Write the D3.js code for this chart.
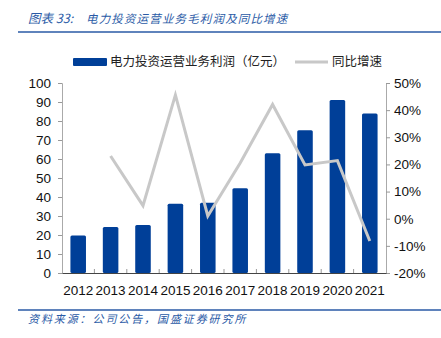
<!DOCTYPE html>
<html><head><meta charset="utf-8">
<script src="https://cdn.jsdelivr.net/npm/d3@7"></script>
<style>body{margin:0;background:#fff;}svg{display:block;}</style>
</head><body>
<script>
const years = ["2012","2013","2014","2015","2016","2017","2018","2019","2020","2021"];
const profit = [19.8, 24.2, 25.3, 36.5, 37.0, 44.6, 63.0, 75.1, 91.0, 83.9];
const growth = [null, 23.1, 4.8, 45.6, 1.0, 20.5, 42.1, 19.8, 21.4, -8.2];
const leftTicks = [0,10,20,30,40,50,60,70,80,90,100];
const rightTicks = [-20,-10,0,10,20,30,40,50];

const W=441,H=338;
const svg=d3.select("body").append("svg").attr("width",W).attr("height",H);
const blue="#003f98", grey="#c8c8c8", titleBlue="#2a5aa6";
const font="'Noto Sans CJK SC','Noto Sans',sans-serif";
const numFont="'Liberation Sans',Arial,sans-serif";

function slantedChars(xp,yp,size,txt,step){
  const g=svg.append("g").attr("transform",`translate(${xp},${yp}) skewX(-14)`);
  g.selectAll("text").data(Array.from(txt)).join("text")
    .attr("x",(d,i)=>i*step).attr("y",0).attr("font-family",font).attr("font-size",size)
    .attr("fill",titleBlue).text(d=>d);
}
const tg=svg.append("g").attr("transform","translate(28,23) skewX(-14)");
tg.append("text").attr("font-family",font).attr("font-size",12.5).attr("fill",titleBlue).text("图表 33:");
slantedChars(86,23,11.5,"电力投资运营业务毛利润及同比增速",12.65);
svg.append("line").attr("x1",18).attr("x2",441).attr("y1",32).attr("y2",32).attr("stroke",titleBlue).attr("stroke-width",1.5);

const L=62,R=386,T=83,B=273;
const x=d3.scaleBand().domain(years).range([L,R]).paddingInner(0.52).paddingOuter(0.26);
const xb=d3.scaleBand().domain(years).range([L,R]);
const yL=d3.scaleLinear().domain([0,100]).range([B,T]);
const yR=d3.scaleLinear().domain([-20,50]).range([B,T]);

// legend
svg.append("rect").attr("x",73).attr("y",58).attr("width",34).attr("height",8).attr("rx",1).attr("fill",blue);
svg.append("text").attr("x",110).attr("y",66).attr("font-family",font).attr("font-size",12.5).attr("fill","#222").text("电力投资运营业务利润（亿元）");
svg.append("line").attr("x1",295).attr("x2",328).attr("y1",62).attr("y2",62).attr("stroke",grey).attr("stroke-width",3);
svg.append("text").attr("x",332).attr("y",66).attr("font-family",font).attr("font-size",12.5).attr("fill","#222").text("同比增速");

// bars
svg.append("g").selectAll("rect").data(years).join("rect")
  .attr("x",d=>x(d)).attr("width",x.bandwidth())
  .attr("y",(d,i)=>yL(profit[i])).attr("height",(d,i)=>B-yL(profit[i]))
  .attr("rx",1.5).attr("fill",blue);

// line
const pts=years.map((d,i)=>[xb(d)+xb.bandwidth()/2,growth[i]]).filter(p=>p[1]!==null);
svg.append("path").attr("d",d3.line().x(p=>p[0]).y(p=>yR(p[1]))(pts))
  .attr("fill","none").attr("stroke",grey).attr("stroke-width",3);

// axes
const axL=svg.append("g").attr("transform",`translate(${L},0)`)
  .call(d3.axisLeft(yL).tickValues(leftTicks).tickSize(4).tickPadding(7));
const axR=svg.append("g").attr("transform",`translate(${R},0)`)
  .call(d3.axisRight(yR).tickValues(rightTicks).tickSize(4).tickPadding(4).tickFormat(d=>d+"%"));
[axL,axR].forEach(a=>{a.select(".domain").attr("stroke","#aaa");a.selectAll(".tick line").attr("stroke","#999");
  a.selectAll("text").attr("font-family",numFont).attr("font-size",13.5).attr("fill","#111");});

const axB=svg.append("g").attr("transform",`translate(0,${B})`)
  .call(d3.axisBottom(xb).tickSize(0).tickPadding(12));
axB.select(".domain").attr("stroke","#444");
axB.selectAll("text").attr("font-family",numFont).attr("font-size",13.5).attr("fill","#111");
svg.append("g").selectAll("line").data(years.slice(1)).join("line")
  .attr("x1",d=>xb(d)).attr("x2",d=>xb(d)).attr("y1",B).attr("y2",B-4).attr("stroke","#999");

svg.append("line").attr("x1",18).attr("x2",441).attr("y1",310).attr("y2",310).attr("stroke",titleBlue).attr("stroke-width",1.5);
slantedChars(28,323,11,"资料来源：公司公告，国盛证券研究所",12.9);
</script>
</body></html>
